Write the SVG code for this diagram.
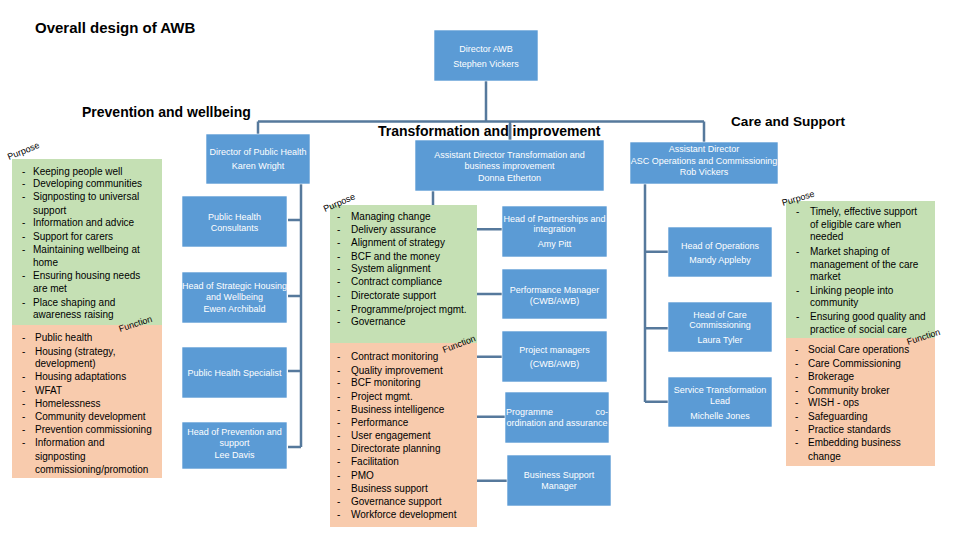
<svg xmlns="http://www.w3.org/2000/svg" width="960" height="540" viewBox="0 0 960 540">
<style>
.box{fill:#5B9BD5;stroke:#ffffff;stroke-width:0.6}
.bt{font-family:"Liberation Sans",Arial,sans-serif;font-size:9px;fill:#ffffff;text-anchor:middle}
.li{font-family:"Liberation Sans",Arial,sans-serif;font-size:10px;fill:#000000}
.hd{font-family:"Liberation Sans",Arial,sans-serif;font-size:14px;font-weight:bold;fill:#000000}
.tag{font-family:"Liberation Sans",Arial,sans-serif;font-size:9px;fill:#000000}
.conn{stroke:#56799C;stroke-width:2.5;fill:none}
.green{fill:#C5E0B4}
.salmon{fill:#F8CBAD}
</style>
<rect width="960" height="540" fill="#ffffff"/>

<g id="headings">
<text class="hd" x="35" y="33" style="font-size:15px">Overall design of AWB</text>
<text class="hd" x="82" y="116.5">Prevention and wellbeing</text>
<text class="hd" x="731" y="125.5" style="font-size:13.6px">Care and Support</text>
</g>

<g id="connectors">
<path class="conn" d="M486 81 V121.5 M258 121.5 H704 M258 121.5 V134 M510 121.5 V140 M704 121.5 V142"/>
<path class="conn" d="M301 184 V447 M288 220 H301 M288 296 H301 M288 371 H301 M288 447 H301"/>
<path class="conn" d="M433 190 V481 M433 229.3 H502 M433 294 H502 M433 356.7 H502 M433 416.7 H505 M433 480.7 H507"/>
<path class="conn" d="M645 184 V402 M645 251.7 H668 M645 328.3 H668 M645 401.7 H668"/>
</g>

<text class="hd" x="378" y="136">Transformation and improvement</text>
<path class="conn" d="M510 124 V140"/>

<g id="director-awb">
<rect class="box" x="434" y="30" width="104" height="51"/>
<text class="bt" x="486" y="51.5">Director AWB</text>
<text class="bt" x="486" y="66.5">Stephen Vickers</text>
</g>

<g id="director-public-health">
<rect class="box" x="206" y="134" width="104" height="50"/>
<text class="bt" x="258" y="155">Director of Public Health</text>
<text class="bt" x="258" y="169">Karen Wright</text>
</g>
<g id="public-health-consultants">
<rect class="box" x="182" y="196" width="105" height="51"/>
<text class="bt" x="234.5" y="220">Public  Health</text>
<text class="bt" x="234.5" y="231">Consultants</text>
</g>
<g id="head-strategic-housing">
<rect class="box" x="182" y="272" width="105" height="51"/>
<text class="bt" x="234.5" y="289">Head of Strategic Housing</text>
<text class="bt" x="234.5" y="300">and Wellbeing</text>
<text class="bt" x="234.5" y="312">Ewen Archibald</text>
</g>
<g id="public-health-specialist">
<rect class="box" x="182" y="347" width="105" height="51"/>
<text class="bt" x="234.5" y="376">Public  Health Specialist</text>
</g>
<g id="head-prevention-support">
<rect class="box" x="182" y="422" width="105" height="47"/>
<text class="bt" x="234.5" y="435">Head of Prevention and</text>
<text class="bt" x="234.5" y="446">support</text>
<text class="bt" x="234.5" y="458">Lee Davis</text>
</g>

<g id="ad-transformation">
<rect class="box" x="415" y="140" width="189" height="51"/>
<text class="bt" x="509.5" y="158">Assistant Director Transformation and</text>
<text class="bt" x="509.5" y="169">business improvement</text>
<text class="bt" x="509.5" y="181">Donna Etherton</text>
</g>
<g id="head-partnerships">
<rect class="box" x="502" y="206" width="105" height="51"/>
<text class="bt" x="554.5" y="221.5">Head of Partnerships and</text>
<text class="bt" x="554.5" y="232">integration</text>
<text class="bt" x="554.5" y="247">Amy Pitt</text>
</g>
<g id="performance-manager">
<rect class="box" x="502" y="269" width="105" height="50"/>
<text class="bt" x="554.5" y="292.5">Performance  Manager</text>
<text class="bt" x="554.5" y="304">(CWB/AWB)</text>
</g>
<g id="project-managers">
<rect class="box" x="502" y="331" width="105" height="51"/>
<text class="bt" x="554.5" y="352.5">Project managers</text>
<text class="bt" x="554.5" y="367">(CWB/AWB)</text>
</g>
<g id="programme-coordination">
<rect class="box" x="505" y="392" width="104" height="51"/>
<text class="bt" y="414.5"><tspan x="506" style="text-anchor:start">Programme</tspan><tspan x="608" style="text-anchor:end">co-</tspan></text>
<text class="bt" x="557" y="425.5">ordination and assurance</text>
</g>
<g id="business-support-manager">
<rect class="box" x="507" y="455" width="104" height="51"/>
<text class="bt" x="559" y="478">Business Support</text>
<text class="bt" x="559" y="489">Manager</text>
</g>

<g id="ad-asc">
<rect class="box" x="630" y="142" width="148" height="42"/>
<text class="bt" x="704" y="151.5">Assistant Director</text>
<text class="bt" x="704" y="163.5">ASC  Operations and Commissioning</text>
<text class="bt" x="704" y="174.5">Rob Vickers</text>
</g>
<g id="head-operations">
<rect class="box" x="668" y="227" width="104" height="50"/>
<text class="bt" x="720" y="249">Head of Operations</text>
<text class="bt" x="720" y="263">Mandy Appleby</text>
</g>
<g id="head-care-commissioning">
<rect class="box" x="668" y="302" width="104" height="50"/>
<text class="bt" x="720" y="318">Head of Care</text>
<text class="bt" x="720" y="328">Commissioning</text>
<text class="bt" x="720" y="342.5">Laura Tyler</text>
</g>
<g id="service-transformation-lead">
<rect class="box" x="668" y="377" width="104" height="50"/>
<text class="bt" x="720" y="393">Service Transformation</text>
<text class="bt" x="720" y="404">Lead</text>
<text class="bt" x="720" y="419">Michelle Jones</text>
</g>

<g id="panel-prevention">
<rect class="green" x="12" y="159" width="150" height="166"/>
<rect class="salmon" x="12" y="325" width="150" height="153"/>
<g class="li">
<text x="22" y="174.8">-</text><text x="33" y="174.8">Keeping people well</text>
<text x="22" y="186.8">-</text><text x="33" y="186.8">Developing communities</text>
<text x="22" y="199.8">-</text><text x="33" y="199.8">Signposting to universal</text>
<text x="33" y="213.5">support</text>
<text x="22" y="225.8">-</text><text x="33" y="225.8">Information and advice</text>
<text x="22" y="240.2">-</text><text x="33" y="240.2">Support for carers</text>
<text x="22" y="253.2">-</text><text x="33" y="253.2">Maintaining wellbeing at</text>
<text x="33" y="266.2">home</text>
<text x="22" y="279.2">-</text><text x="33" y="279.2">Ensuring housing needs</text>
<text x="33" y="292.2">are met</text>
<text x="22" y="305.8">-</text><text x="33" y="305.8">Place shaping and</text>
<text x="33" y="318.2">awareness raising</text>
<text x="22" y="340.8">-</text><text x="35" y="340.8">Public health</text>
<text x="22" y="354.5">-</text><text x="35" y="354.5">Housing (strategy,</text>
<text x="35" y="366.8">development)</text>
<text x="22" y="380.2">-</text><text x="35" y="380.2">Housing adaptations</text>
<text x="22" y="394.2">-</text><text x="35" y="394.2">WFAT</text>
<text x="22" y="406.8">-</text><text x="35" y="406.8">Homelessness</text>
<text x="22" y="420.2">-</text><text x="35" y="420.2">Community development</text>
<text x="22" y="432.8">-</text><text x="35" y="432.8">Prevention commissioning</text>
<text x="22" y="446.2">-</text><text x="35" y="446.2">Information and</text>
<text x="35" y="460.2">signposting</text>
<text x="35" y="472.8">commissioning/promotion</text>
</g>
<text class="tag" x="9" y="160" transform="rotate(-22 9 160)">Purpose</text>
<text class="tag" x="120" y="332" transform="rotate(-18 120 332)">Function</text>
</g>

<g id="panel-transformation">
<rect class="green" x="330" y="205" width="147" height="138"/>
<rect class="salmon" x="330" y="343" width="147" height="184"/>
<g class="li">
<text x="337" y="219.5">-</text><text x="351" y="219.5">Managing change</text>
<text x="337" y="232.8">-</text><text x="351" y="232.8">Delivery assurance</text>
<text x="337" y="246.2">-</text><text x="351" y="246.2">Alignment of strategy</text>
<text x="337" y="259.5">-</text><text x="351" y="259.5">BCF and the money</text>
<text x="337" y="271.8">-</text><text x="351" y="271.8">System alignment</text>
<text x="337" y="285.2">-</text><text x="351" y="285.2">Contract compliance</text>
<text x="337" y="299.2">-</text><text x="351" y="299.2">Directorate support</text>
<text x="337" y="312.5">-</text><text x="351" y="312.5">Programme/project mgmt.</text>
<text x="337" y="325.2">-</text><text x="351" y="325.2">Governance</text>
<text x="337" y="360.2">-</text><text x="351" y="360.2">Contract monitoring</text>
<text x="337" y="373.5">-</text><text x="351" y="373.5">Quality improvement</text>
<text x="337" y="386.2">-</text><text x="351" y="386.2">BCF monitoring</text>
<text x="337" y="399.5">-</text><text x="351" y="399.5">Project mgmt.</text>
<text x="337" y="412.5">-</text><text x="351" y="412.5">Business intelligence</text>
<text x="337" y="426.2">-</text><text x="351" y="426.2">Performance</text>
<text x="337" y="439.2">-</text><text x="351" y="439.2">User engagement</text>
<text x="337" y="452.2">-</text><text x="351" y="452.2">Directorate planning</text>
<text x="337" y="465.2">-</text><text x="351" y="465.2">Facilitation</text>
<text x="337" y="478.5">-</text><text x="351" y="478.5">PMO</text>
<text x="337" y="491.8">-</text><text x="351" y="491.8">Business support</text>
<text x="337" y="505.2">-</text><text x="351" y="505.2">Governance support</text>
<text x="337" y="517.8">-</text><text x="351" y="517.8">Workforce development</text>
</g>
<text class="tag" x="325" y="212" transform="rotate(-23 325 212)">Purpose</text>
<text class="tag" x="444" y="353" transform="rotate(-21 444 353)">Function</text>
</g>

<g id="panel-care">
<rect class="green" x="786" y="201" width="149" height="137"/>
<rect class="salmon" x="786" y="338" width="149" height="128"/>
<g class="li">
<text x="796" y="215.2">-</text><text x="810" y="215.2">Timely, effective support</text>
<text x="810" y="227.8">of eligible care when</text>
<text x="810" y="240.2">needed</text>
<text x="796" y="254.5">-</text><text x="810" y="254.5">Market shaping of</text>
<text x="810" y="267.8">management of the care</text>
<text x="810" y="280.2">market</text>
<text x="796" y="293.5">-</text><text x="810" y="293.5">Linking people into</text>
<text x="810" y="306.2">community</text>
<text x="796" y="320.2">-</text><text x="810" y="320.2">Ensuring good quality and</text>
<text x="810" y="332.8">practice of social care</text>
<text x="795" y="352.8">-</text><text x="808" y="352.8">Social Care operations</text>
<text x="795" y="366.8">-</text><text x="808" y="366.8">Care Commissioning</text>
<text x="795" y="380.2">-</text><text x="808" y="380.2">Brokerage</text>
<text x="795" y="393.5">-</text><text x="808" y="393.5">Community broker</text>
<text x="795" y="406.2">-</text><text x="808" y="406.2">WISH - ops</text>
<text x="795" y="419.5">-</text><text x="808" y="419.5">Safeguarding</text>
<text x="795" y="432.8">-</text><text x="808" y="432.8">Practice standards</text>
<text x="795" y="446.2">-</text><text x="808" y="446.2">Embedding business</text>
<text x="808" y="459.5">change</text>
</g>
<text class="tag" x="783" y="206" transform="rotate(-17 783 206)">Purpose</text>
<text class="tag" x="908" y="345" transform="rotate(-18 908 345)">Function</text>
</g>
</svg>
